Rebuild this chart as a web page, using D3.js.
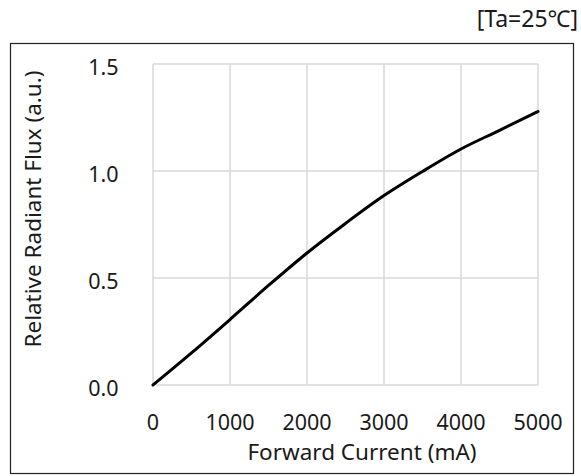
<!DOCTYPE html>
<html>
<head>
<meta charset="utf-8">
<script src="https://cdn.jsdelivr.net/npm/d3@7"></script>
<style>
  body { margin: 0; background: #fff; }
  svg { display: block; }
  text { font-family: "Noto Sans", "Open Sans", sans-serif; fill: #1a1a1a; }
</style>
</head>
<body>
<svg id="chart"></svg>
<script>
// forward current (mA) vs relative radiant flux
const current = [0, 500, 1000, 1500, 2000, 2500, 3000, 3500, 4000, 4500, 5000];
const flux = [0, 0.15, 0.306, 0.465, 0.617, 0.755, 0.885, 0.998, 1.103, 1.19, 1.278];
const xTicks = [0, 1000, 2000, 3000, 4000, 5000];
const yTicks = [0, 0.5, 1.0, 1.5];

const width = 581, height = 476;
const plot = {left: 153, right: 538, top: 64, bottom: 385};

const svg = d3.select("#chart")
  .attr("width", width)
  .attr("height", height);

// outer frame
svg.append("rect")
  .attr("x", 10.5).attr("y", 43.5)
  .attr("width", 563).attr("height", 430)
  .attr("fill", "none")
  .attr("stroke", "#222")
  .attr("stroke-width", 1.2);

const x = d3.scaleLinear().domain([0, 5000]).range([plot.left, plot.right]);
const y = d3.scaleLinear().domain([0, 1.5]).range([plot.bottom, plot.top]);

// grid
svg.append("g")
  .selectAll("line")
  .data(xTicks)
  .join("line")
  .attr("x1", d => x(d)).attr("x2", d => x(d))
  .attr("y1", plot.top).attr("y2", plot.bottom)
  .attr("stroke", "#d9d9d9")
  .attr("stroke-width", 1.5);

svg.append("g")
  .selectAll("line")
  .data(yTicks)
  .join("line")
  .attr("x1", plot.left).attr("x2", plot.right)
  .attr("y1", d => y(d)).attr("y2", d => y(d))
  .attr("stroke", "#d9d9d9")
  .attr("stroke-width", 1.5);

// tick labels
svg.append("g")
  .selectAll("text")
  .data(xTicks)
  .join("text")
  .attr("x", d => x(d))
  .attr("y", 429.5)
  .attr("text-anchor", "middle")
  .attr("font-size", 21.5)
  .text(d => d);

svg.append("g")
  .selectAll("text")
  .data(yTicks)
  .join("text")
  .attr("x", 118.5)
  .attr("y", d => y(d) + 10.5)
  .attr("text-anchor", "end")
  .attr("font-size", 21.5)
  .text(d => d3.format(".1f")(d));

// axis titles
svg.append("text")
  .attr("x", 362).attr("y", 460)
  .attr("text-anchor", "middle")
  .attr("font-size", 22.5)
  .text("Forward Current (mA)");

svg.append("text")
  .attr("transform", "translate(41,209) rotate(-90)")
  .attr("text-anchor", "middle")
  .attr("font-size", 22.5)
  .text("Relative Radiant Flux (a.u.)");

svg.append("text")
  .attr("x", 578).attr("y", 27)
  .attr("text-anchor", "end")
  .attr("font-size", 23)
  .text("[Ta=25℃]");

// curve
const line = d3.line()
  .x((d, i) => x(current[i]))
  .y(d => y(d))
  .curve(d3.curveMonotoneX);

svg.append("path")
  .datum(flux)
  .attr("d", line)
  .attr("fill", "none")
  .attr("stroke", "#000")
  .attr("stroke-width", 3)
  .attr("stroke-linecap", "round");
</script>
</body>
</html>
